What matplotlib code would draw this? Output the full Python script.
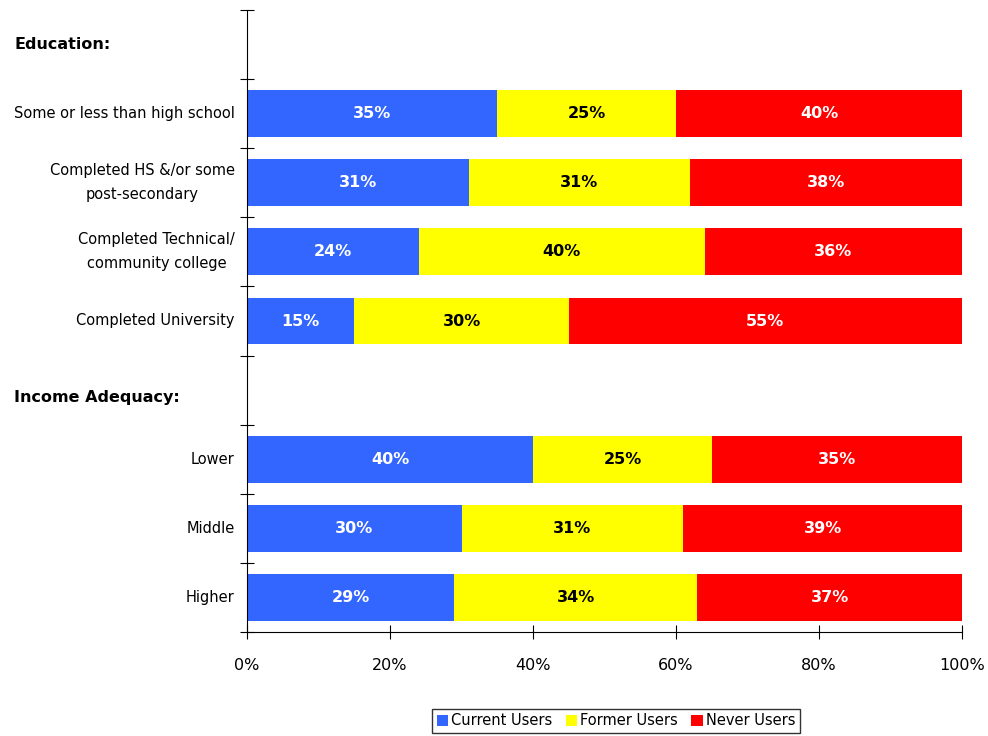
import matplotlib
matplotlib.use("Agg")
import matplotlib.pyplot as plt
from matplotlib.patches import Patch

categories = ["Education:", "Some or less than high school",
              "Completed HS &/or some\npost-secondary",
              "Completed Technical/\ncommunity college",
              "Completed University", "Income Adequacy:",
              "Lower", "Middle", "Higher"]
is_header = [True, False, False, False, False, True, False, False, False]
current = [0, 35, 31, 24, 15, 0, 40, 30, 29]
former = [0, 25, 31, 40, 30, 0, 25, 31, 34]
never = [0, 40, 38, 36, 55, 0, 35, 39, 37]
series_names = ["Current Users", "Former Users", "Never Users"]
colors = ["#3366FF", "#FFFF00", "#FF0000"]
text_colors = ["white", "black", "white"]
xticks = [0, 20, 40, 60, 80, 100]
xtick_labels = ["0%", "20%", "40%", "60%", "80%", "100%"]

plt.rcParams['font.family'] = ['DejaVu Sans']
fig = plt.figure(figsize=(9.88, 7.36), dpi=100)
ax = fig.add_axes([247/988, 104/736, 715/988, 622/736])

n = len(categories)
ys = list(range(n))
left = [0]*n
for vals, col, tc in zip([current, former, never], colors, text_colors):
    for i in range(n):
        if is_header[i]:
            continue
        ax.barh(ys[i], vals[i], left=left[i], height=0.68, color=col, edgecolor='none')
        ax.text(left[i] + vals[i]/2, ys[i], f"{vals[i]}%", ha='center', va='center',
                color=tc, fontsize=11.5, fontweight='bold')
        left[i] += vals[i]

ax.set_xlim(0, 100)
ax.set_ylim(n - 0.5, -0.5)
ax.spines['top'].set_visible(False)
ax.spines['right'].set_visible(False)
ax.set_xticks(xticks)
ax.set_xticklabels(xtick_labels, fontsize=11.5)
ax.tick_params(axis='x', direction='inout', length=10, pad=14)
ax.set_yticks([i + 0.5 for i in range(-1, n)], minor=False)
ax.set_yticklabels([])
ax.tick_params(axis='y', direction='inout', length=10)
for i in range(n):
    if is_header[i]:
        fig.text(14/988, ax.transData.transform((0, i))[1]/736 - (0.01 if i == 5 else 0.0),
                 categories[i], ha='left', va='center', fontsize=11.5, fontweight='bold',
                 transform=fig.transFigure)
    else:
        ax.text(-1.7, i, categories[i], ha='right', va='center', fontsize=10.5,
                multialignment='center', linespacing=1.75, transform=ax.transData)

handles = [Patch(facecolor=c, edgecolor='none') for c in colors]
leg = fig.legend(handles, series_names, loc='upper center', bbox_to_anchor=(616/988, 1 - 709/736),
                 ncol=3, frameon=True, fancybox=False, edgecolor='black', fontsize=10.5,
                 handlelength=0.8, handleheight=0.8, handletextpad=0.2, columnspacing=0.9,
                 borderpad=0.3, borderaxespad=0.0)
leg.get_frame().set_linewidth(1.0)

fig.savefig("out.png", dpi=100)
